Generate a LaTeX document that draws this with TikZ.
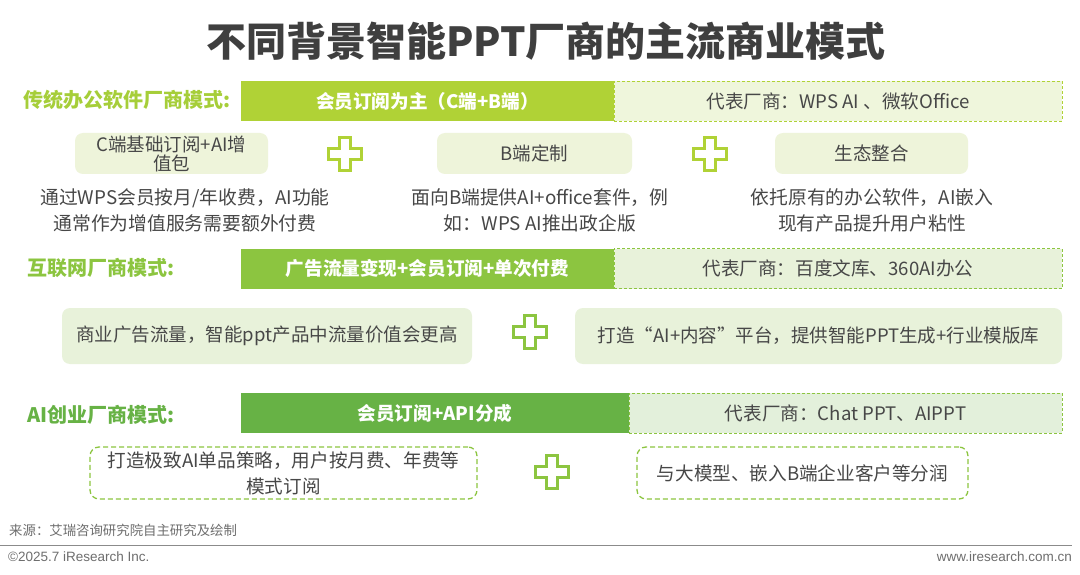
\documentclass[tikz,border=0pt]{standalone}
\usepackage{fontspec}
\setmainfont{Noto Sans CJK SC}
\newfontfamily\arialf{Liberation Sans}
\definecolor{titlegray}{HTML}{3F3F3F}
\definecolor{textgray}{HTML}{474747}
\definecolor{footgray}{HTML}{6E6E6E}
\definecolor{gA}{HTML}{B0D236}
\definecolor{gAlab}{HTML}{A6CE39}
\definecolor{gB}{HTML}{8CC540}
\definecolor{gC}{HTML}{67B245}
\definecolor{lA}{HTML}{EFF6DC}
\definecolor{lAbox}{HTML}{EEF4DA}
\definecolor{lB}{HTML}{E8F2DA}
\definecolor{lC}{HTML}{E3F0DB}
\tikzset{
  lab/.style={font=\fontsize{20}{24}\selectfont\bfseries, anchor=west, inner sep=0},
  bar/.style={fill=#1, draw=none, text=white, inner sep=0, minimum height=40,
              font=\fontsize{18.6}{22}\selectfont\bfseries},
  rep/.style={fill=#1, inner sep=0, minimum height=40, text=textgray,
              font=\fontsize{18.6}{22}\selectfont, dashed, dash pattern=on 3pt off 2pt, line width=0.9pt},
  subbox/.style={fill=#1, rounded corners=8pt, inner sep=0, text=textgray,
              font=\fontsize{18.5}{22}\selectfont, align=center},
  dbox/.style={draw=#1, dashed, dash pattern=on 5pt off 3pt, line width=1.3pt, rounded corners=9pt,
              inner sep=0, text=textgray, font=\fontsize{18.6}{26}\selectfont, align=center},
  desc/.style={text=textgray, font=\fontsize{18.8}{26}\selectfont, align=center, inner sep=0},
  plussign/.pic={\draw[pic actions] (-5.5,-16.5) -- (5.5,-16.5) -- (5.5,-5.5) -- (16.5,-5.5) -- (16.5,5.5)
      -- (5.5,5.5) -- (5.5,16.5) -- (-5.5,16.5) -- (-5.5,5.5) -- (-16.5,5.5) -- (-16.5,-5.5) -- (-5.5,-5.5) -- cycle;},
}
\begin{document}
\begin{tikzpicture}[x=1pt,y=-1pt]
\useasboundingbox[fill=white] (0,0) rectangle (1080,575);

% title
\node[text=titlegray, font=\fontsize{40}{44}\selectfont\bfseries, inner sep=0] (title) at (546,41) {不同背景智能PPT厂商的主流商业模式};

% ---------- row 1
\node[lab, text=gAlab] (lab1) at (23,100) {传统办公软件厂商模式:};
\node[bar=gA, minimum width=373] (bar1) at (427.5,101) {会员订阅为主（C端+B端）};
\node[rep=lA, draw=gA, minimum width=448] (rep1) at (838,101) {代表厂商：WPS AI 、微软Office};

\node[subbox=lAbox, minimum width=193, minimum height=41, text width=180] (s11) at (171.5,153.5) {C端基础订阅+AI增\\[-3pt]值包};
\node[subbox=lAbox, minimum width=195, minimum height=41] (s12) at (534.5,153.5) {B端定制};
\node[subbox=lAbox, minimum width=193, minimum height=41] (s13) at (871.5,153.5) {生态整合};
\pic[draw=gA, line width=3pt] (p11) at (345,154) {plussign};
\pic[draw=gA, line width=3pt] (p12) at (710,154) {plussign};

\node[desc] (d11) at (185,210) {通过WPS会员按月/年收费，AI功能\\通常作为增值服务需要额外付费};
\node[desc] (d12) at (540,210) {面向B端提供AI+office套件，例\\如：WPS AI推出政企版};
\node[desc] (d13) at (872,210) {依托原有的办公软件，AI嵌入\\现有产品提升用户粘性};

% ---------- row 2
\node[lab, text=gB] (lab2) at (27,268) {互联网厂商模式:};
\node[bar=gB, minimum width=373] (bar2) at (427.5,268.5) {广告流量变现+会员订阅+单次付费};
\node[rep=lB, draw=gB, minimum width=448] (rep2) at (838,268.5) {代表厂商：百度文库、360AI办公};

\node[subbox=lB, minimum width=410, minimum height=56] (s21) at (267,336) {商业广告流量，智能ppt产品中流量价值会更高};
\node[subbox=lB, minimum width=487, minimum height=56] (s22) at (818.5,336) {打造“AI+内容”平台，提供智能PPT生成+行业模版库};
\pic[draw=gB, line width=3pt] (p21) at (530,332) {plussign};

% ---------- row 3
\node[lab, text=gC] (lab3) at (27,415) {AI创业厂商模式:};
\node[bar=gC, minimum width=388] (bar3) at (435,413) {会员订阅+API分成};
\node[rep=lC, draw=gB, minimum width=433] (rep3) at (845.5,413) {代表厂商：Chat PPT、AIPPT};

\node[dbox=gB, minimum width=387, minimum height=52] (s31) at (283.5,473) {打造极致AI单品策略，用户按月费、年费等\\模式订阅};
\node[dbox=gB, minimum width=331, minimum height=52] (s32) at (802.5,473) {与大模型、嵌入B端企业客户等分润};
\pic[draw=gB, line width=3pt] (p31) at (552,472) {plussign};

% ---------- footer
\node[anchor=west, text=footgray, font=\fontsize{13.4}{15}\selectfont, inner sep=0] (src) at (9,530) {来源：艾瑞咨询研究院自主研究及绘制};
\coordinate (l0) at (0,545);
\coordinate (l1) at (1072,545);
\draw[line width=1pt, draw=footgray!80] (l0) -- (l1);
\node[anchor=west, text=footgray, font=\arialf\fontsize{13.5}{15}\selectfont, inner sep=0] (copy) at (8,557) {©2025.7 iResearch Inc.};
\node[anchor=east, text=footgray, font=\arialf\fontsize{13.5}{15}\selectfont, inner sep=0] (www) at (1072,557) {www.iresearch.com.cn};
\end{tikzpicture}
\end{document}
